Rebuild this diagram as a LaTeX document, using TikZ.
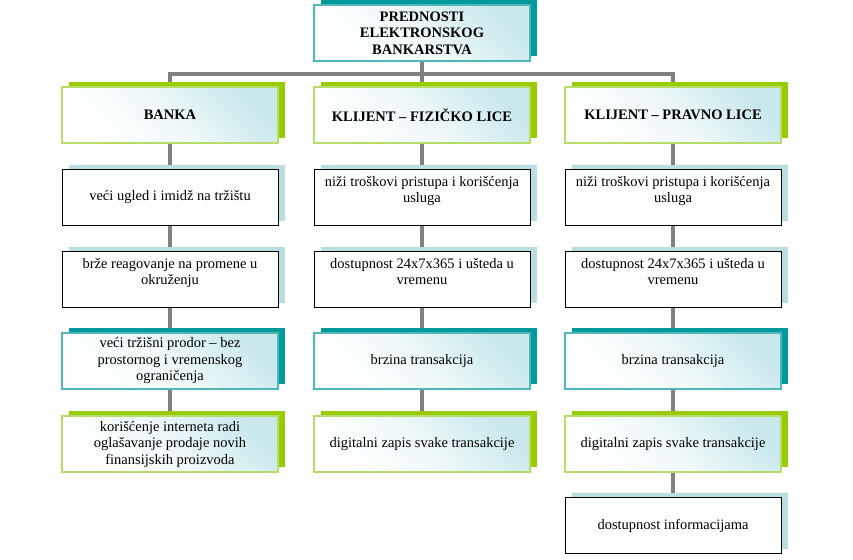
\documentclass[tikz,border=0pt]{standalone}
\usepackage{fontspec}
\setmainfont{Liberation Serif}
\usetikzlibrary{shadows,backgrounds}
\definecolor{dgreen}{HTML}{99CC00}
\definecolor{lgreen}{HTML}{B8DC6A}
\definecolor{dteal}{HTML}{009A9A}
\definecolor{lteal}{HTML}{4FB7BA}
\definecolor{lblue}{HTML}{B9DDE1}
\definecolor{cyanlt}{HTML}{C9E8EC}
\definecolor{conncol}{HTML}{808080}
\tikzset{
  basebox/.style={minimum width=216pt, minimum height=56pt, align=center,
    inner sep=2pt, outer sep=0pt, font=\fontsize{14.5}{16.5}\selectfont},
  greenbox/.style={basebox, draw=lgreen, line width=1.2pt,
    top color=cyanlt, bottom color=white, middle color=white!70!cyanlt, shading angle=-45,
    drop shadow={shadow xshift=7pt, shadow yshift=5pt, fill=dgreen, opacity=1}},
  tealbox/.style={basebox, draw=lteal, line width=1.2pt,
    top color=cyanlt, bottom color=white, middle color=white!70!cyanlt, shading angle=-45,
    drop shadow={shadow xshift=7pt, shadow yshift=5pt, fill=dteal, opacity=1}},
  plainbox/.style={basebox, draw=black, line width=0.9pt, fill=white,
    drop shadow={shadow xshift=7pt, shadow yshift=5pt, fill=lblue, opacity=1}},
  headtxt/.style={font=\fontsize{14.5}{16.5}\selectfont\bfseries},
  conn/.style={draw=conncol, line width=4pt}
}
\begin{document}
\begin{tikzpicture}[x=1pt,y=-1pt]
\useasboundingbox (0,0) rectangle (853,559);
% top
\node[tealbox, headtxt] (top) at (422,33) {PREDNOSTI\\ELEKTRONSKOG\\BANKARSTVA};
\coordinate (bar) at (422,74.5);
% column 1
\node[greenbox, headtxt] (banka) at (170,115) {BANKA};
\node[plainbox] (a1) at (170,197.5) {ve\'ci ugled i imid\v{z} na tr\v{z}i\v{s}tu};
\node[plainbox] (a2) at (170,279.5) {br\v{z}e reagovanje na promene u\\okru\v{z}enju\\\mbox{}};
\node[tealbox] (a3) at (170,361) {ve\'ci tr\v{z}i\v{s}ni prodor -- bez\\prostornog i vremenskog\\ograni\v{c}enja};
\node[greenbox] (a4) at (170,444) {kori\v{s}\'cenje interneta radi\\ogla\v{s}avanje prodaje novih\\finansijskih proizvoda};
% column 2
\node[greenbox, headtxt] (fiz) at (422,115) {KLIJENT -- FIZI\v{C}KO LICE};
\node[plainbox] (b1) at (422,197.5) {ni\v{z}i tro\v{s}kovi pristupa i kori\v{s}\'cenja\\usluga\\\mbox{}};
\node[plainbox] (b2) at (422,279.5) {dostupnost 24x7x365 i u\v{s}teda u\\vremenu\\\mbox{}};
\node[tealbox] (b3) at (422,361) {brzina transakcija};
\node[greenbox] (b4) at (422,444) {digitalni zapis svake transakcije};
% column 3
\node[greenbox, headtxt] (prav) at (673,115) {KLIJENT -- PRAVNO LICE};
\node[plainbox] (c1) at (673,197.5) {ni\v{z}i tro\v{s}kovi pristupa i kori\v{s}\'cenja\\usluga\\\mbox{}};
\node[plainbox] (c2) at (673,279.5) {dostupnost 24x7x365 i u\v{s}teda u\\vremenu\\\mbox{}};
\node[tealbox] (c3) at (673,361) {brzina transakcija};
\node[greenbox] (c4) at (673,444) {digitalni zapis svake transakcije};
\node[plainbox] (c5) at (673,525.5) {dostupnost informacijama};
\begin{scope}[on background layer]
\draw[conn] (top.south) -- (bar);
\draw[conn] (bar) -| (banka.north);
\draw[conn] (bar) -| (prav.north);
\draw[conn] (bar) -- (fiz.north);
\draw[conn] (banka.south) -- (a1.north);
\draw[conn] (a1.south) -- (a2.north);
\draw[conn] (a2.south) -- (a3.north);
\draw[conn] (a3.south) -- (a4.north);
\draw[conn] (fiz.south) -- (b1.north);
\draw[conn] (b1.south) -- (b2.north);
\draw[conn] (b2.south) -- (b3.north);
\draw[conn] (b3.south) -- (b4.north);
\draw[conn] (prav.south) -- (c1.north);
\draw[conn] (c1.south) -- (c2.north);
\draw[conn] (c2.south) -- (c3.north);
\draw[conn] (c3.south) -- (c4.north);
\draw[conn] (c4.south) -- (c5.north);
\end{scope}
\end{tikzpicture}
\end{document}
